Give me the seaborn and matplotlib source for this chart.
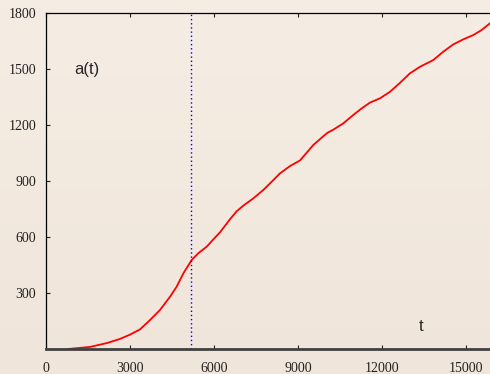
import numpy as np
import pandas as pd
import matplotlib
matplotlib.use("Agg")
import matplotlib.pyplot as plt
import seaborn as sns

# values
t_vals = [786, 1571, 2179, 2643, 3000, 3357, 3714, 4071, 4429, 4667, 4905,
          5205, 5440, 5738, 5964, 6214, 6571, 6810, 7048, 7405, 7762,
          8060, 8357, 8714, 9071, 9548, 9905, 10050, 10262, 10619, 10976,
          11274, 11571, 11929, 12286, 12643, 13000, 13357, 13833, 14190,
          14548, 14905, 15262, 15560, 15857, 16000]
a_vals = [0, 11, 32, 54, 77, 105, 155, 209, 280, 334, 405,
          477, 513, 548, 585, 625, 695, 738, 768, 807, 852,
          896, 941, 980, 1010, 1093, 1140, 1158, 1175, 1209, 1254,
          1289, 1320, 1343, 1378, 1426, 1477, 1512, 1548, 1593,
          1632, 1659, 1682, 1709, 1745, 1760]
t_mark = 5180
x_ticks = [0, 3000, 6000, 9000, 12000, 15000]
y_ticks = [300, 600, 900, 1200, 1500, 1800]

df = pd.DataFrame({"t": t_vals, "a": a_vals})

sns.set_style("ticks")
fig = plt.figure(figsize=(4.9, 3.74), dpi=100)

# beige gradient backdrop
bg = fig.add_axes([0, 0, 1, 1], zorder=-10)
grad = np.linspace(0, 1, 256).reshape(-1, 1)
top = np.array([245, 237, 228]) / 255
bot = np.array([240, 229, 218]) / 255
img = top[None, None, :] * (1 - grad[:, :, None]) + bot[None, None, :] * grad[:, :, None]
bg.imshow(img, aspect="auto", extent=[0, 1, 0, 1])
bg.axis("off")

ax = fig.add_axes([46 / 490, 25 / 374, 448 / 490, 336 / 374])
ax.patch.set_alpha(0)

sns.lineplot(data=df, x="t", y="a", color="red", linewidth=1.3, ax=ax)
ax.axvline(t_mark, color="#0000ff", linestyle=(0, (1, 2)), linewidth=1.0)

ax.set_xlim(0, 16000)
ax.set_ylim(0, 1800)
ax.set_xticks(x_ticks)
ax.set_yticks(y_ticks)
ax.set_xlabel("")
ax.set_ylabel("")
ax.tick_params(direction="in", length=3, width=0.8, top=True, right=True,
               labelsize=10, colors="#222222")
ax.tick_params(axis="x", pad=9)
ax.tick_params(axis="y", pad=7)
for lab in ax.get_xticklabels() + ax.get_yticklabels():
    lab.set_fontfamily("Liberation Serif")

for side in ["top", "left", "right"]:
    ax.spines[side].set_color("black")
    ax.spines[side].set_linewidth(0.9)
ax.spines["bottom"].set_color("#404040")
ax.spines["bottom"].set_linewidth(2)

ax.text(1000, 1495, "a(t)", fontsize=12, family="Liberation Sans", va="center", ha="left")
ax.text(13393, 118, "t", fontsize=12, family="Liberation Sans", va="center", ha="center")

fig.savefig("out.png", dpi=100)
